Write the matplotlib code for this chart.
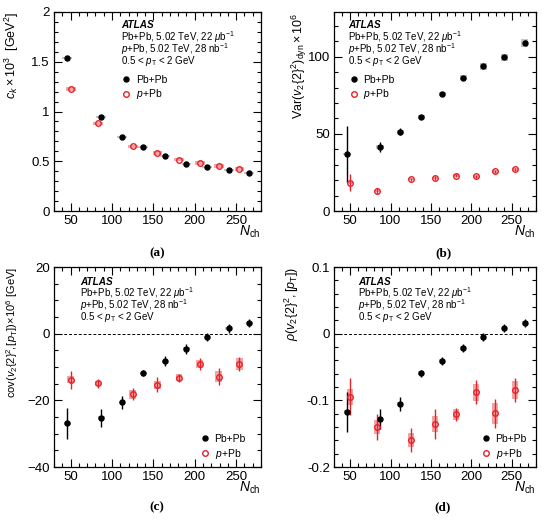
import numpy as np
import matplotlib
matplotlib.use("Agg")
import matplotlib.pyplot as plt
from matplotlib.ticker import MultipleLocator, FuncFormatter

plt.rcParams["font.family"] = ["Liberation Sans", "DejaVu Sans"]
plt.rcParams["mathtext.fontset"] = "custom"
plt.rcParams["mathtext.rm"] = "Liberation Sans"
plt.rcParams["mathtext.it"] = "Liberation Sans:italic"
plt.rcParams["mathtext.bf"] = "Liberation Sans:bold"

# N_ch bin centres
nch_pbpb = [46, 87, 112, 138, 164, 190, 215, 241, 266]
nch_ppb = [50, 83, 125, 155, 181, 206, 229, 254]

# (a) c_k x 10^3
ck_pbpb = [1.535, 0.943, 0.745, 0.641, 0.548, 0.477, 0.446, 0.409, 0.378]
ck_pbpb_stat = [0, 0, 0, 0, 0, 0, 0, 0, 0]
ck_pbpb_sys = [0.01, 0.01, 0.01, 0.01, 0.01, 0.01, 0.01, 0.01, 0.01]
ck_ppb = [1.227, 0.88, 0.65, 0.582, 0.516, 0.483, 0.455, 0.423]
ck_ppb_stat = [0, 0, 0, 0, 0, 0, 0, 0]
ck_ppb_sys = [0.018, 0.018, 0.018, 0.018, 0.018, 0.018, 0.018, 0.022]

# (b) Var(v2{2}^2)_dyn x 10^6
var_pbpb = [37.0, 41.5, 51.3, 60.9, 75.9, 86.5, 93.7, 99.6, 109.1]
var_pbpb_stat = [18.0, 3.5, 2.2, 1.5, 1.5, 1.2, 1.2, 1.2, 1.5]
var_pbpb_sys = [0.8, 1.0, 1.2, 1.3, 1.5, 1.7, 2.0, 2.3, 2.7]
var_ppb = [18.3, 12.8, 20.7, 21.3, 23.0, 22.4, 25.7, 27.0]
var_ppb_stat = [5.5, 1.8, 1.0, 1.5, 1.0, 1.0, 1.0, 1.0]
var_ppb_sys = [0.8, 0.8, 0.8, 0.8, 0.8, 0.8, 0.8, 0.8]

# (c) cov(v2{2}^2, [pT]) x 10^6 [GeV]
cov_pbpb = [-26.9, -25.2, -20.6, -11.8, -8.3, -4.5, -1.0, 1.6, 3.2]
cov_pbpb_stat = [4.7, 2.7, 2.0, 1.0, 1.5, 1.5, 1.3, 1.3, 1.3]
cov_pbpb_sys = [0.4, 0.4, 0.4, 0.4, 0.4, 0.4, 0.4, 0.4, 0.4]
cov_ppb = [-13.8, -14.9, -18.2, -15.3, -13.2, -9.1, -12.9, -9.1]
cov_ppb_stat = [2.7, 1.3, 1.8, 2.3, 1.2, 1.8, 2.5, 2.0]
cov_ppb_sys = [1.0, 0.8, 1.3, 1.2, 1.0, 1.1, 1.6, 1.7]

# (d) rho(v2{2}^2, [pT])
rho_pbpb = [-0.117, -0.128, -0.1055, -0.0595, -0.0405, -0.022, -0.005, 0.0085, 0.016]
rho_pbpb_stat = [0.03, 0.015, 0.01, 0.005, 0.006, 0.006, 0.006, 0.006, 0.006]
rho_pbpb_sys = [0.003, 0.003, 0.003, 0.003, 0.003, 0.003, 0.003, 0.003, 0.003]
rho_ppb = [-0.0945, -0.14, -0.1595, -0.1355, -0.121, -0.088, -0.1195, -0.0845]
rho_ppb_stat = [0.028, 0.02, 0.018, 0.022, 0.01, 0.018, 0.022, 0.018]
rho_ppb_sys = [0.012, 0.01, 0.01, 0.012, 0.008, 0.013, 0.016, 0.013]

grey = "#c4c4c4"
pink = "#f4a3a3"
red = "#e8202a"

W, H = 550.0, 520.0
fig = plt.figure(figsize=(5.5, 5.2), dpi=100)


def make_axes(left, top, right, bottom):
    return fig.add_axes([left / W, 1 - bottom / H, (right - left) / W, (bottom - top) / H])


def panel(ax, y1, e1, s1, y2, e2, s2, hw1, hw2):
    y1, e1, s1 = np.array(y1), np.array(e1), np.array(s1)
    y2, e2, s2 = np.array(y2), np.array(e2), np.array(s2)
    ax.bar(nch_pbpb, 2 * s1, bottom=y1 - s1, width=2 * hw1, color=grey, zorder=1)
    ax.bar(nch_ppb, 2 * s2, bottom=y2 - s2, width=2 * hw2, color=pink, zorder=1)
    ax.errorbar(nch_pbpb, y1, yerr=e1, fmt="none", ecolor="k", elinewidth=1.0, zorder=2)
    ax.errorbar(nch_ppb, y2, yerr=e2, fmt="none", ecolor=red, elinewidth=1.0, zorder=2)
    h1, = ax.plot(nch_pbpb, y1, "o", color="k", ms=3.6, zorder=3)
    h2, = ax.plot(nch_ppb, y2, "o", mfc="none", mec=red, mew=1.0, ms=4.0, zorder=3)
    ax.set_xlim(30, 280)
    ax.xaxis.set_major_locator(MultipleLocator(50))
    ax.xaxis.set_minor_locator(MultipleLocator(10))
    ax.tick_params(which="both", direction="in", top=True, right=True, labelsize=9.5, width=0.8)
    ax.tick_params(which="major", length=6, pad=3)
    ax.tick_params(which="minor", length=3)
    for sp in ax.spines.values():
        sp.set_linewidth(0.9)
    ax.set_xlabel(r"$N_{\rm ch}$", loc="right", fontsize=10)
    ax.xaxis.set_label_coords(1.0, -0.065)
    return h1, h2


def info(ax, x, ys):
    lines = [r"Pb+Pb, 5.02 TeV, 22 $\mu$b$^{-1}$",
             r"$p$+Pb, 5.02 TeV, 28 nb$^{-1}$",
             r"0.5 < $p_{\rm T}$ < 2 GeV"]
    ax.text(x, ys[0], "ATLAS", transform=ax.transAxes, fontsize=7.2,
            fontweight="bold", fontstyle="italic", va="center")
    for yy, s in zip(ys[1:], lines):
        ax.text(x, yy, s, transform=ax.transAxes, fontsize=7.0, va="center")


def legend(ax, handles, x, y):
    ax.legend(handles, ["Pb+Pb", r"$p$+Pb"], loc="upper left", bbox_to_anchor=(x, y),
              frameon=False, fontsize=7.5, handlelength=0.8, handletextpad=0.5,
              labelspacing=0.25, borderpad=0, borderaxespad=0)


# (a)
ax = make_axes(54, 12, 261, 211)
h = panel(ax, ck_pbpb, ck_pbpb_stat, ck_pbpb_sys, ck_ppb, ck_ppb_stat, ck_ppb_sys, 6, 6)
ax.set_ylim(0, 2)
ax.yaxis.set_major_locator(MultipleLocator(0.5))
ax.yaxis.set_minor_locator(MultipleLocator(0.1))
ax.yaxis.set_major_formatter(FuncFormatter(lambda v, p: "%g" % v))
ax.set_ylabel(r"$c_k \times 10^3$  [GeV$^2$]", loc="top", fontsize=9)
ax.yaxis.set_label_coords(-0.16, 1.0)
info(ax, 0.324, [0.935, 0.874, 0.814, 0.753])
legend(ax, h, 0.33, 0.685)

# (b)
ax = make_axes(334, 12, 536, 211)
h = panel(ax, var_pbpb, var_pbpb_stat, var_pbpb_sys, var_ppb, var_ppb_stat, var_ppb_sys, 4.5, 4)
ax.set_ylim(0, 129)
ax.yaxis.set_major_locator(MultipleLocator(50))
ax.yaxis.set_minor_locator(MultipleLocator(10))
ax.set_ylabel(r"Var$(v_2\{2\}^2)_{\rm dyn} \times 10^6$", loc="top", fontsize=9)
ax.yaxis.set_label_coords(-0.124, 1.0)
info(ax, 0.069, [0.935, 0.874, 0.814, 0.753])
legend(ax, h, 0.079, 0.685)

# (c)
ax = make_axes(54, 267, 261, 467)
h = panel(ax, cov_pbpb, cov_pbpb_stat, cov_pbpb_sys, cov_ppb, cov_ppb_stat, cov_ppb_sys, 4, 4)
ax.set_ylim(-40, 20)
ax.yaxis.set_major_locator(MultipleLocator(20))
ax.yaxis.set_minor_locator(MultipleLocator(5))
ax.axhline(0, color="k", ls=(0, (3, 2)), lw=0.7, zorder=0)
ax.set_ylabel(r"cov$(v_2\{2\}^2\!,[p_{\rm T}])\!\times\!10^6$ [GeV]", loc="top", fontsize=8)
ax.yaxis.set_label_coords(-0.165, 1.0)
info(ax, 0.126, [0.925, 0.868, 0.81, 0.752])
legend(ax, h, 0.71, 0.165)

# (d)
ax = make_axes(334, 267, 536, 467)
h = panel(ax, rho_pbpb, rho_pbpb_stat, rho_pbpb_sys, rho_ppb, rho_ppb_stat, rho_ppb_sys, 3.5, 3.5)
ax.set_ylim(-0.2, 0.1)
ax.yaxis.set_major_locator(MultipleLocator(0.1))
ax.yaxis.set_minor_locator(MultipleLocator(0.02))
ax.yaxis.set_major_formatter(FuncFormatter(lambda v, p: "%g" % round(v, 3)))
ax.axhline(0, color="k", ls=(0, (3, 2)), lw=0.7, zorder=0)
ax.set_ylabel(r"$\rho(v_2\{2\}^2,[p_{\rm T}])$", loc="top", fontsize=9)
ax.yaxis.set_label_coords(-0.163, 1.0)
info(ax, 0.12, [0.925, 0.868, 0.81, 0.752])
legend(ax, h, 0.733, 0.165)

for lab, x, y in [("(a)", 157, 253), ("(b)", 443, 253), ("(c)", 157, 507), ("(d)", 443, 507)]:
    fig.text(x / W, 1 - y / H, lab, ha="center", va="center", fontsize=9.5,
             fontweight="bold", family="Liberation Serif")

fig.savefig("out.png", dpi=100)
